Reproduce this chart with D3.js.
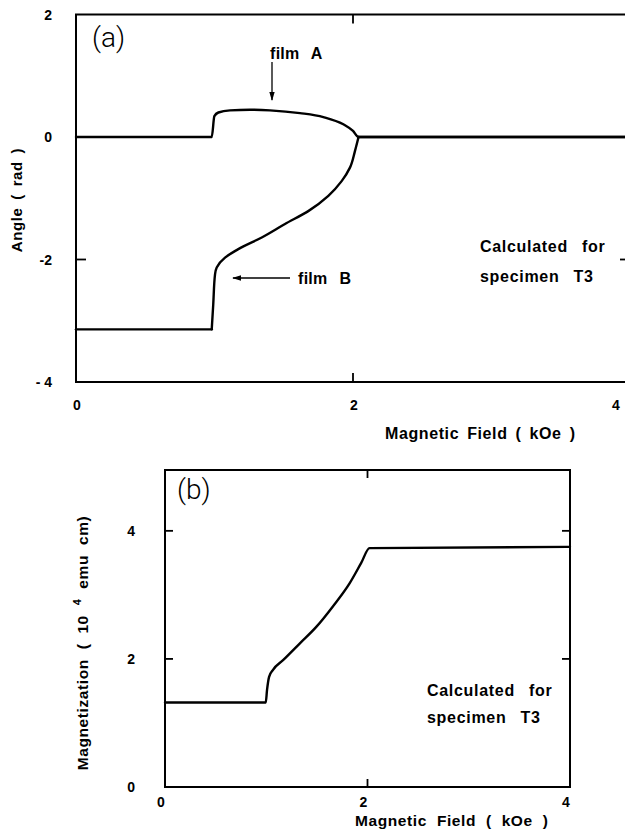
<!DOCTYPE html>
<html><head><meta charset="utf-8">
<script src="https://cdn.jsdelivr.net/npm/d3@7"></script>
<style>
html,body{margin:0;padding:0;background:#fff;}
svg{display:block;}
text{font-family:"Liberation Sans",Arial,sans-serif;font-weight:bold;fill:#000;}
</style></head><body>
<svg id="c" width="625" height="831"></svg>
<script>
// ---- data ----
const filmA_H = [0, 0.98, 0.999, 1.028, 1.112, 1.256, 1.40, 1.617, 1.786, 1.93, 2.00, 2.04, 4];
const filmA_angle = [0, 0, 0.34, 0.40, 0.435, 0.445, 0.435, 0.39, 0.326, 0.207, 0.098, 0, 0];
const filmB_H = [0, 0.98, 0.991, 1.004, 1.016, 1.076, 1.172, 1.341, 1.509, 1.677, 1.822, 1.918, 1.978, 2.014, 2.04, 4];
const filmB_angle = [-3.14, -3.14, -2.73, -2.24, -2.13, -1.97, -1.83, -1.64, -1.42, -1.21, -0.96, -0.72, -0.50, -0.23, 0, 0];
const magH = [0, 0.995, 1.008, 1.028, 1.067, 1.166, 1.33, 1.494, 1.658, 1.823, 1.938, 2.02, 4];
const magM = [1.32, 1.32, 1.52, 1.72, 1.83, 1.98, 2.24, 2.50, 2.82, 3.18, 3.50, 3.73, 3.75];
const xTicks = [0, 2, 4];
const xTickLabels = ["0", "2", "4"];
const yTicksA = [2, 0, -2, -4];
const yTickLabelsA = ["2", "0", "-2", "- 4"];
const yTicksB = [0, 2, 4];
const yTickLabelsB = ["0", "2", "4"];

const svg = d3.select("#c");
const stroke = (sel, w) => sel.attr("fill", "none").attr("stroke", "#000").attr("stroke-width", w)
  .attr("stroke-linejoin", "round").attr("stroke-linecap", "round");

// ---- panel (a) ----
const xa = d3.scaleLinear().domain([0, 4]).range([76, 630]);
const ya = d3.scaleLinear().domain([-4, 2]).range([382, 14.5]);
const ga = svg.append("g");
ga.append("rect").attr("x", xa(0)).attr("y", ya(2)).attr("width", xa(4) - xa(0)).attr("height", ya(-4) - ya(2))
  .attr("fill", "none").attr("stroke", "#000").attr("stroke-width", 2);
[[xa(0), ya(-2), xa(0) + 10, ya(-2)], [xa(4), ya(-2), xa(4) - 10, ya(-2)],
 [xa(2), ya(2), xa(2), ya(2) + 9], [xa(2), ya(-4), xa(2), ya(-4) - 9]].forEach(d =>
  ga.append("line").attr("x1", d[0]).attr("y1", d[1]).attr("x2", d[2]).attr("y2", d[3]).attr("stroke", "#000").attr("stroke-width", 1.8));
ga.selectAll(".yl").data(yTicksA).join("text").attr("x", 52).attr("y", d => ya(d) + 5)
  .attr("text-anchor", "end").attr("font-size", 14).text((d, i) => yTickLabelsA[i]);
ga.selectAll(".xl").data(xTicks).join("text").attr("x", d => Math.min(xa(d) + 1, 616)).attr("y", 410)
  .attr("text-anchor", "middle").attr("font-size", 14).text((d, i) => xTickLabels[i]);

const ptsA = filmA_H.map((h, i) => [h, filmA_angle[i]]);
const ptsB = filmB_H.map((h, i) => [h, filmB_angle[i]]);
const lineAx = d3.line().x(d => xa(d[0])).y(d => ya(d[1])).curve(d3.curveMonotoneX);
const lineAy = d3.line().x(d => xa(d[0])).y(d => ya(d[1])).curve(d3.curveMonotoneY);
const lineAlin = d3.line().x(d => xa(d[0])).y(d => ya(d[1]));
stroke(ga.append("path").datum(ptsA).attr("d", lineAx), 2.4);
// film B: flat start, curved rise (monotone in angle), flat end
stroke(ga.append("path").datum(ptsB.slice(0, 2)).attr("d", lineAlin), 2.4);
stroke(ga.append("path").datum(ptsB.slice(1, ptsB.length - 1)).attr("d", lineAy), 2.4);
stroke(ga.append("path").datum(ptsB.slice(ptsB.length - 2)).attr("d", lineAlin), 2.4);

ga.append("text").attr("x", 92).attr("y", 47).attr("font-size", 28)
  .style("font-family", "Roboto, 'DejaVu Sans', sans-serif").style("font-weight", 300).text("(a)");
ga.append("text").attr("transform", "translate(22,200) rotate(-90)").attr("text-anchor", "middle")
  .attr("font-size", 15).attr("letter-spacing", 0.6).attr("word-spacing", 3).text("Angle ( rad )");
ga.append("text").attr("x", 385).attr("y", 439).attr("font-size", 16).attr("letter-spacing", 0.6)
  .attr("word-spacing", 3).text("Magnetic Field ( kOe )");
ga.append("text").attr("x", 270).attr("y", 59).attr("font-size", 16).attr("letter-spacing", 0.3).attr("word-spacing", 7).text("film A");
ga.append("text").attr("x", 298).attr("y", 284).attr("font-size", 16).attr("letter-spacing", 0.3).attr("word-spacing", 7).text("film B");
ga.append("text").attr("x", 480).attr("y", 252).attr("font-size", 16).attr("letter-spacing", 0.7).attr("word-spacing", 9).text("Calculated for");
ga.append("text").attr("x", 480).attr("y", 282).attr("font-size", 16).attr("letter-spacing", 0.7).attr("word-spacing", 9).text("specimen T3");
const defs = svg.append("defs");
defs.append("marker").attr("id", "ah").attr("viewBox", "0 0 10 10").attr("refX", 9).attr("refY", 5)
  .attr("markerWidth", 7).attr("markerHeight", 7).attr("orient", "auto-start-reverse")
  .append("path").attr("d", "M0,2 L10,5 L0,8 Z").attr("fill", "#000");
ga.append("line").attr("x1", 272).attr("y1", 62).attr("x2", 272).attr("y2", 100).attr("stroke", "#000")
  .attr("stroke-width", 1.3).attr("marker-end", "url(#ah)");
ga.append("line").attr("x1", 290).attr("y1", 278).attr("x2", 233).attr("y2", 278).attr("stroke", "#000")
  .attr("stroke-width", 1.3).attr("marker-end", "url(#ah)");

// ---- panel (b) ----
const xb = d3.scaleLinear().domain([0, 4]).range([165, 570]);
const yb = d3.scaleLinear().domain([0, 4.95]).range([787, 470]);
const gb = svg.append("g");
gb.append("rect").attr("x", xb(0)).attr("y", yb(4.95)).attr("width", xb(4) - xb(0)).attr("height", yb(0) - yb(4.95))
  .attr("fill", "none").attr("stroke", "#000").attr("stroke-width", 2);
[[xb(0), yb(2), xb(0) + 8, yb(2)], [xb(0), yb(4), xb(0) + 8, yb(4)],
 [xb(4), yb(2), xb(4) - 8, yb(2)], [xb(4), yb(4), xb(4) - 8, yb(4)],
 [xb(2), yb(4.95), xb(2), yb(4.95) + 8], [xb(2), yb(0), xb(2), yb(0) - 8]].forEach(d =>
  gb.append("line").attr("x1", d[0]).attr("y1", d[1]).attr("x2", d[2]).attr("y2", d[3]).attr("stroke", "#000").attr("stroke-width", 1.8));
gb.selectAll(".yl").data(yTicksB).join("text").attr("x", 135).attr("y", d => yb(d) + 5)
  .attr("text-anchor", "end").attr("font-size", 14).text((d, i) => yTickLabelsB[i]);
gb.selectAll(".xl").data(xTicks).join("text").attr("x", d => xb(d) - 4).attr("y", 807)
  .attr("text-anchor", "middle").attr("font-size", 14).text((d, i) => xTickLabels[i]);
const lineB = d3.line().x(d => xb(d[0])).y(d => yb(d[1])).curve(d3.curveMonotoneX);
stroke(gb.append("path").datum(magH.map((h, i) => [h, magM[i]])).attr("d", lineB), 2.4);
gb.append("text").attr("x", 177).attr("y", 499).attr("font-size", 28)
  .style("font-family", "Roboto, 'DejaVu Sans', sans-serif").style("font-weight", 300).text("(b)");
const ml = gb.append("text").attr("transform", "translate(88,643) rotate(-90)").attr("text-anchor", "middle")
  .attr("font-size", 15.5).attr("letter-spacing", 0.6).attr("word-spacing", 5);
ml.append("tspan").text("Magnetization ( 10 ");
ml.append("tspan").attr("dy", -7).attr("font-size", 11).text("4");
ml.append("tspan").attr("dy", 7).text(" emu cm)");
gb.append("text").attr("x", 355).attr("y", 826).attr("font-size", 15.5).attr("letter-spacing", 0.6)
  .attr("word-spacing", 5).text("Magnetic Field  ( kOe )");
gb.append("text").attr("x", 427).attr("y", 696).attr("font-size", 16).attr("letter-spacing", 0.7).attr("word-spacing", 9).text("Calculated for");
gb.append("text").attr("x", 427).attr("y", 723).attr("font-size", 16).attr("letter-spacing", 0.7).attr("word-spacing", 9).text("specimen T3");
</script>
</body></html>
